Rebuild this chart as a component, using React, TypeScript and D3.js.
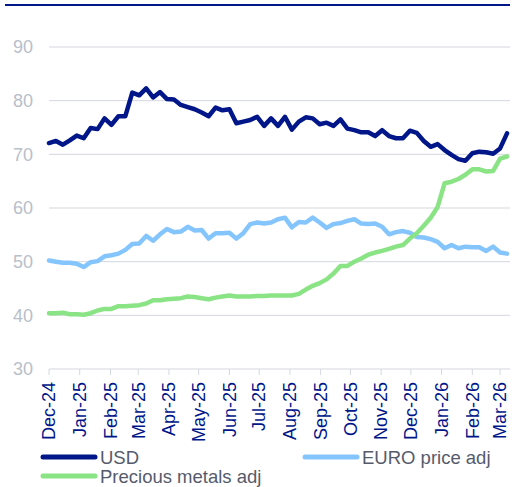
import React from "react";
import * as d3 from "d3";

const START_DATE = new Date(2024, 11, 1);
const WEEKS = 67;

const usd = [72.1, 72.5, 71.8, 72.6, 73.5, 73.0, 74.9, 74.7, 76.7, 75.5, 77.1, 77.1, 81.5, 81.0, 82.3, 80.6, 81.6, 80.3, 80.2, 79.2, 78.8, 78.4, 77.8, 77.1, 78.7, 78.2, 78.4, 75.8, 76.1, 76.4, 77.0, 75.3, 76.7, 75.3, 77.0, 74.6, 76.1, 76.9, 76.7, 75.6, 75.9, 75.3, 76.5, 74.8, 74.5, 74.1, 74.1, 73.4, 74.5, 73.4, 73.0, 73.0, 74.4, 74.0, 72.5, 71.4, 71.9, 70.8, 69.9, 69.1, 68.8, 70.2, 70.5, 70.4, 70.1, 71.1, 73.9];

const euro = [50.2, 50.0, 49.8, 49.8, 49.6, 49.0, 49.9, 50.1, 51.0, 51.2, 51.5, 52.2, 53.3, 53.4, 54.8, 53.9, 55.1, 56.1, 55.5, 55.6, 56.5, 55.8, 55.9, 54.3, 55.3, 55.3, 55.4, 54.3, 55.3, 57.0, 57.3, 57.1, 57.3, 57.9, 58.2, 56.4, 57.4, 57.3, 58.2, 57.3, 56.3, 57.0, 57.2, 57.6, 57.9, 57.1, 57.0, 57.1, 56.5, 55.1, 55.5, 55.7, 55.4, 54.6, 54.5, 54.2, 53.7, 52.5, 53.1, 52.5, 52.8, 52.7, 52.7, 52.0, 52.8, 51.7, 51.5];

const metals = [40.4, 40.4, 40.5, 40.2, 40.2, 40.1, 40.4, 40.9, 41.2, 41.2, 41.7, 41.7, 41.8, 41.9, 42.2, 42.8, 42.8, 43.0, 43.1, 43.2, 43.5, 43.4, 43.2, 43.0, 43.3, 43.5, 43.7, 43.5, 43.5, 43.5, 43.6, 43.6, 43.7, 43.7, 43.7, 43.7, 44.0, 44.8, 45.5, 46.0, 46.7, 47.8, 49.2, 49.2, 50.0, 50.6, 51.3, 51.7, 52.0, 52.4, 52.8, 53.1, 54.3, 55.3, 56.7, 58.2, 60.2, 64.6, 64.9, 65.4, 66.2, 67.2, 67.2, 66.8, 66.9, 69.2, 69.6];

const yTicks = [30, 40, 50, 60, 70, 80, 90];
const tickMonths = [
  "Dec-24", "Jan-25", "Feb-25", "Mar-25", "Apr-25", "May-25", "Jun-25", "Jul-25",
  "Aug-25", "Sep-25", "Oct-25", "Nov-25", "Dec-25", "Jan-26", "Feb-26", "Mar-26",
];

const seriesNames = ["USD", "EURO price adj", "Precious metals adj"];
const seriesColors = ["#001689", "#85c5fd", "#8ae384"];

const FONT = "'Liberation Sans', Arial, sans-serif";

export default function App() {
  const dates = d3.range(WEEKS).map((i) => d3.timeDay.offset(START_DATE, i * 7));
  const x = d3
    .scaleTime()
    .domain([new Date(2024, 11, 1), new Date(2026, 2, 11)])
    .range([49, 510]);
  const y = d3.scaleLinear().domain([30, 90]).range([369, 47]);

  const tickDates = d3.timeMonth.range(new Date(2024, 11, 1), new Date(2026, 2, 2));

  const line = d3
    .line<number>()
    .x((_, i) => x(dates[i]))
    .y((v) => y(v));

  const all = [usd, euro, metals];

  return (
    <svg
      width={512}
      height={487}
      style={{ position: "absolute", left: 0, top: 0, background: "#fff" }}
      fontFamily={FONT}
    >
      <line x1={5} x2={510} y1={5} y2={5} stroke="#001689" strokeWidth={2} />
      {yTicks.map((t) => (
        <g key={t}>
          {t !== 30 && (
            <line x1={49} x2={510} y1={y(t)} y2={y(t)} stroke="#d3d7de" strokeWidth={1} />
          )}
          <text x={33} y={y(t)} dy="0.36em" textAnchor="end" fontSize={18} fill="#b8c0ca">
            {t}
          </text>
        </g>
      ))}
      <line x1={49} x2={510} y1={369} y2={369} stroke="#d3d7de" strokeWidth={1} />
      {tickDates.map((d, i) => (
        <g key={i}>
          <line x1={x(d)} x2={x(d)} y1={369} y2={375} stroke="#d3d7de" strokeWidth={1} />
          <text
            transform={`translate(${x(d)},382) rotate(-90)`}
            dy="0.35em"
            textAnchor="end"
            fontSize={18}
            fill="#001689"
          >
            {tickMonths[i]}
          </text>
        </g>
      ))}
      {all.map((s, k) => (
        <path
          key={k}
          d={line(s) || ""}
          fill="none"
          stroke={seriesColors[k]}
          strokeWidth={4.5}
          strokeLinejoin="round"
          strokeLinecap="round"
        />
      ))}
      {/* legend */}
      {[
        { lx: 43, ly: 457, k: 0 },
        { lx: 305, ly: 457, k: 1 },
        { lx: 43, ly: 476, k: 2 },
      ].map(({ lx, ly, k }) => (
        <g key={k}>
          <line
            x1={lx}
            x2={lx + 52}
            y1={ly}
            y2={ly}
            stroke={seriesColors[k]}
            strokeWidth={5}
            strokeLinecap="round"
          />
          <text x={lx + 57} y={ly} dy="0.36em" fontSize={18.5} fill="#555b6b">
            {seriesNames[k]}
          </text>
        </g>
      ))}
    </svg>
  );
}
